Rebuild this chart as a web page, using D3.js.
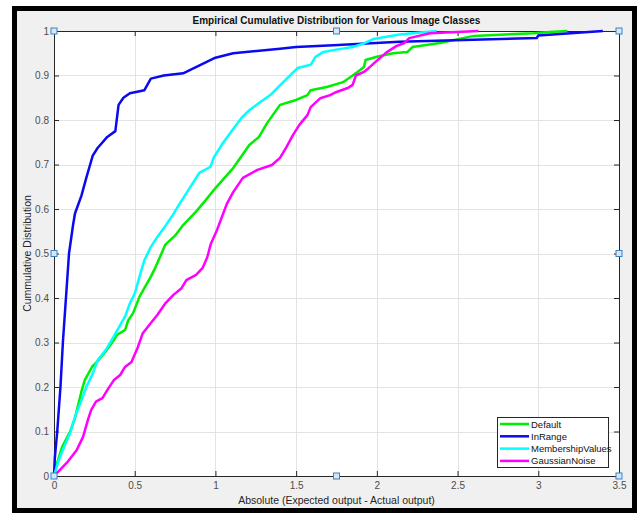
<!DOCTYPE html>
<html>
<head>
<meta charset="utf-8">
<script src="https://cdn.jsdelivr.net/npm/d3@7"></script>
<style>
  body { margin: 0; background: #fff; }
  text { font-family: "Liberation Sans", Arial, sans-serif; }
</style>
</head>
<body>
<svg id="myGraph" width="638" height="517"></svg>
<script>
// series names and colours (legend order = plot order)
var seriesNames = ["Default", "InRange", "MembershipValues", "GaussianNoise"]
var seriesColors = ["#00ee00", "#0a0af0", "#00ffff", "#ff00ff"]

// Default
var defaultX = [0, 0.02, 0.05, 0.1, 0.13, 0.17, 0.19, 0.235, 0.275, 0.32, 0.37, 0.39, 0.44, 0.46, 0.49, 0.53, 0.6, 0.63, 0.69, 0.75, 0.8, 0.88, 0.94, 1.0, 1.11, 1.21, 1.27, 1.32, 1.4, 1.5, 1.57, 1.59, 1.69, 1.79, 1.85, 1.88, 1.92, 1.93, 2.0, 2.1, 2.19, 2.22, 2.39, 2.6, 2.97, 3.07, 3.18]
var defaultY = [0, 0.03, 0.065, 0.1, 0.13, 0.19, 0.215, 0.245, 0.26, 0.28, 0.305, 0.317, 0.328, 0.35, 0.366, 0.403, 0.448, 0.47, 0.52, 0.54, 0.564, 0.594, 0.62, 0.647, 0.692, 0.744, 0.762, 0.793, 0.834, 0.845, 0.856, 0.867, 0.874, 0.885, 0.9, 0.908, 0.919, 0.935, 0.942, 0.95, 0.953, 0.964, 0.973, 0.989, 0.995, 0.998, 1.0]

// InRange
var inRangeX = [0, 0.005, 0.02, 0.04, 0.055, 0.074, 0.093, 0.118, 0.13, 0.17, 0.2, 0.22, 0.24, 0.27, 0.33, 0.38, 0.4, 0.43, 0.47, 0.56, 0.6, 0.68, 0.8, 1.0, 1.11, 1.4, 1.5, 1.73, 2.14, 2.99, 3.0, 3.4]
var inRangeY = [0, 0.04, 0.1, 0.2, 0.3, 0.4, 0.5, 0.564, 0.59, 0.63, 0.67, 0.695, 0.72, 0.737, 0.762, 0.775, 0.834, 0.85, 0.86, 0.867, 0.893, 0.9, 0.905, 0.94, 0.95, 0.96, 0.964, 0.968, 0.976, 0.984, 0.99, 1.0]

// MembershipValues
var memberX = [0, 0.03, 0.06, 0.1, 0.13, 0.17, 0.2, 0.24, 0.27, 0.32, 0.37, 0.4, 0.44, 0.47, 0.5, 0.53, 0.56, 0.6, 0.64, 0.69, 0.73, 0.77, 0.84, 0.9, 0.97, 0.99, 1.05, 1.11, 1.16, 1.21, 1.27, 1.34, 1.42, 1.51, 1.59, 1.62, 1.67, 1.73, 1.85, 1.92, 1.98, 2.14, 2.37]
var memberY = [0, 0.036, 0.063, 0.097, 0.133, 0.17, 0.2, 0.23, 0.26, 0.283, 0.313, 0.333, 0.358, 0.388, 0.41, 0.448, 0.485, 0.515, 0.537, 0.562, 0.583, 0.607, 0.647, 0.681, 0.695, 0.716, 0.75, 0.78, 0.804, 0.822, 0.838, 0.856, 0.885, 0.917, 0.924, 0.942, 0.953, 0.957, 0.964, 0.972, 0.982, 0.992, 1.0]

// GaussianNoise
var noiseX = [0, 0.04, 0.08, 0.14, 0.18, 0.21, 0.23, 0.26, 0.3, 0.33, 0.37, 0.41, 0.44, 0.48, 0.52, 0.55, 0.6, 0.64, 0.69, 0.74, 0.79, 0.82, 0.88, 0.92, 0.95, 0.97, 1.01, 1.04, 1.07, 1.11, 1.17, 1.26, 1.35, 1.4, 1.44, 1.48, 1.52, 1.57, 1.59, 1.65, 1.71, 1.75, 1.82, 1.85, 1.87, 1.92, 1.95, 1.99, 2.06, 2.12, 2.17, 2.2, 2.33, 2.63]
var noiseY = [0, 0.015, 0.03, 0.058, 0.088, 0.126, 0.148, 0.167, 0.175, 0.193, 0.215, 0.227, 0.245, 0.256, 0.29, 0.321, 0.344, 0.362, 0.388, 0.407, 0.422, 0.44, 0.452, 0.467, 0.492, 0.52, 0.553, 0.582, 0.611, 0.638, 0.67, 0.688, 0.699, 0.715, 0.739, 0.766, 0.789, 0.811, 0.829, 0.849, 0.856, 0.863, 0.872, 0.879, 0.9, 0.908, 0.917, 0.93, 0.952, 0.966, 0.973, 0.984, 0.995, 1.0]

// axis ticks and labels
var xTicks = [0, 0.5, 1, 1.5, 2, 2.5, 3, 3.5]
var yTicks = [0, 0.1, 0.2, 0.3, 0.4, 0.5, 0.6, 0.7, 0.8, 0.9, 1]
var titleText = "Empirical Cumulative Distribution for Various Image Classes"
var xLabelText = "Absolute (Expected output - Actual output)"
var yLabelText = "Cummulative Distribution"

var xSeries = [defaultX, inRangeX, memberX, noiseX]
var ySeries = [defaultY, inRangeY, memberY, noiseY]

// plot box (window.top is reserved, so use other names)
var boxL = 54, boxR = 619, boxT = 31, boxB = 476

var svg = d3.select("#myGraph")

// figure frame
svg.append("rect")
	.attr("x", 14.5).attr("y", 8.5)
	.attr("width", 620).attr("height", 502)
	.attr("fill", "#f0f0f0")
	.attr("stroke", "#000")
	.attr("stroke-width", 5)

svg.append("rect")
	.attr("x", boxL).attr("y", boxT)
	.attr("width", boxR - boxL).attr("height", boxB - boxT)
	.attr("fill", "#fff")

var xScale = d3.scaleLinear().domain([0, 3.5]).range([boxL, boxR])
var yScale = d3.scaleLinear().domain([0, 1]).range([boxB, boxT])

// grid
var grid = svg.append("g").attr("stroke", "#e3e3e3").attr("stroke-width", 1)
grid.selectAll(".gx").data(xTicks).enter().append("line")
	.attr("x1", function(d){ return Math.round(xScale(d)) + 0.5 })
	.attr("x2", function(d){ return Math.round(xScale(d)) + 0.5 })
	.attr("y1", boxT).attr("y2", boxB)
grid.selectAll(".gy").data(yTicks).enter().append("line")
	.attr("y1", function(d){ return Math.round(yScale(d)) + 0.5 })
	.attr("y2", function(d){ return Math.round(yScale(d)) + 0.5 })
	.attr("x1", boxL).attr("x2", boxR)

// axes, ticks pointing inward on all sides
var axisColor = "#262626"
function styleAxis(g) {
	g.select(".domain").attr("stroke", axisColor)
	g.selectAll(".tick line").attr("stroke", axisColor)
	g.selectAll(".tick text").attr("fill", "#4d4d4d").style("font-size", "10px")
		.style("font-family", "'Liberation Sans', Arial, sans-serif")
}

svg.append("g")
	.attr("transform", "translate(0," + boxB + ")")
	.call(d3.axisBottom(xScale).tickValues(xTicks).tickSizeInner(-5).tickSizeOuter(0).tickPadding(6)
		.tickFormat(function(d){ return d3.format("")(d) }))
	.call(styleAxis)

svg.append("g")
	.attr("transform", "translate(" + boxL + ",0)")
	.call(d3.axisLeft(yScale).tickValues(yTicks).tickSizeInner(-5).tickSizeOuter(0).tickPadding(5)
		.tickFormat(function(d){ return d3.format("")(d) }))
	.call(styleAxis)

svg.append("g")
	.attr("transform", "translate(0," + boxT + ")")
	.call(d3.axisTop(xScale).tickValues(xTicks).tickSizeInner(-5).tickSizeOuter(0).tickFormat(""))
	.call(styleAxis)

svg.append("g")
	.attr("transform", "translate(" + boxR + ",0)")
	.call(d3.axisRight(yScale).tickValues(yTicks).tickSizeInner(-5).tickSizeOuter(0).tickFormat(""))
	.call(styleAxis)

// curves
var line = d3.line()
	.x(function(d){ return xScale(d[0]) })
	.y(function(d){ return yScale(d[1]) })

for (var i = 0; i < seriesNames.length; i++) {
	var pts = xSeries[i].map(function(x, j){ return [x, ySeries[i][j]] })
	svg.append("path")
		.datum(pts)
		.attr("fill", "none")
		.attr("stroke", seriesColors[i])
		.attr("stroke-width", 2.5)
		.attr("stroke-linejoin", "round")
		.attr("d", line)
}

// selection handles
var handles = [[0, 1], [1.75, 1], [3.5, 1], [0, 0.5], [3.5, 0.5], [0, 0], [1.75, 0], [3.5, 0]]
svg.selectAll(".handle").data(handles).enter().append("rect")
	.attr("x", function(d){ return xScale(d[0]) - 3 })
	.attr("y", function(d){ return yScale(d[1]) - 3 })
	.attr("width", 6).attr("height", 6)
	.attr("fill", "#d4e6f7")
	.attr("stroke", "#3b82c4")
	.attr("stroke-width", 1)

// title and axis labels
svg.append("text")
	.attr("x", (boxL + boxR) / 2).attr("y", 23.5)
	.attr("text-anchor", "middle")
	.style("font-size", "10px").style("font-weight", "bold")
	.attr("fill", "#111")
	.text(titleText)

svg.append("text")
	.attr("x", (boxL + boxR) / 2).attr("y", 504)
	.attr("text-anchor", "middle")
	.style("font-size", "10.5px")
	.attr("fill", "#262626")
	.text(xLabelText)

svg.append("text")
	.attr("transform", "translate(31," + ((boxT + boxB) / 2) + ") rotate(-90)")
	.attr("text-anchor", "middle")
	.style("font-size", "10.5px")
	.attr("fill", "#262626")
	.text(yLabelText)

// legend
var legend = svg.append("g")
legend.append("rect")
	.attr("x", 497.5).attr("y", 417.5)
	.attr("width", 111).attr("height", 50)
	.attr("fill", "#fff")
	.attr("stroke", "#262626")
	.attr("stroke-width", 1)

var rows = legend.selectAll(".row").data(seriesNames).enter().append("g")
	.attr("transform", function(d, i){ return "translate(0," + (424 + i * 12.3) + ")" })
rows.append("line")
	.attr("x1", 500).attr("x2", 529)
	.attr("stroke", function(d, i){ return seriesColors[i] })
	.attr("stroke-width", 2.5)
rows.append("text")
	.attr("x", 531).attr("y", 3.5)
	.style("font-size", "9.5px")
	.attr("fill", "#111")
	.text(function(d){ return d })
</script>
</body>
</html>
